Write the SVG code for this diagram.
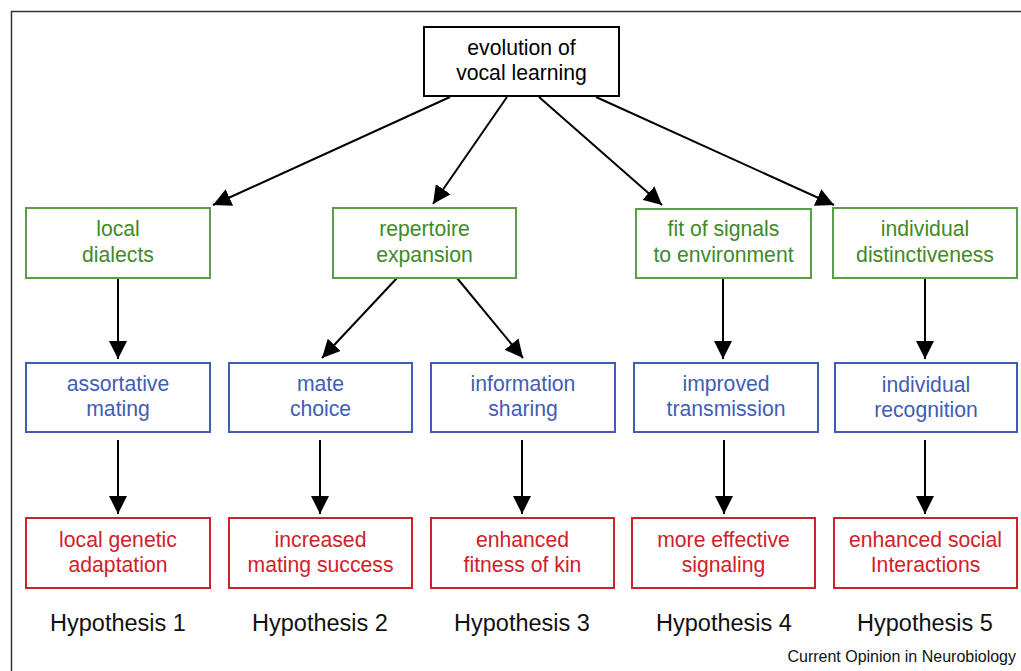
<svg xmlns="http://www.w3.org/2000/svg" width="1021" height="671" viewBox="0 0 1021 671">
<style>
text{font-family:"Liberation Sans",Arial,sans-serif;text-anchor:middle}
.t{font-size:21.2px}
.h{font-size:23.5px;fill:#111}
.box{fill:#fff;stroke-width:2}
.k{stroke:#000}
.g{stroke:#5a9f45}
.b{stroke:#3f5db5}
.r{stroke:#d0212b}
.gt{fill:#3f8a28}
.bt{fill:#3f5db5}
.rt{fill:#d0212b}
</style>
<defs>
<marker id="a2" viewBox="0 0 18 18" refX="18" refY="9" markerWidth="18" markerHeight="18" markerUnits="userSpaceOnUse" orient="auto">
<path d="M0,0 L18,9 L0,18 z" fill="#000"/>
</marker>
</defs>
<rect width="1021" height="671" fill="#fff"/>
<path d="M11.5,671 V11.5 H1021" fill="none" stroke="#333" stroke-width="1.5"/>
<g id="connectors" stroke="#000" stroke-width="2" fill="none">
<line x1="450" y1="97" x2="213" y2="205" marker-end="url(#a2)"/>
<line x1="507" y1="97" x2="433" y2="204" marker-end="url(#a2)"/>
<line x1="539" y1="97" x2="662" y2="205" marker-end="url(#a2)"/>
<line x1="596" y1="97" x2="834" y2="205" marker-end="url(#a2)"/>
<line x1="118" y1="278" x2="118" y2="359" marker-end="url(#a2)"/>
<line x1="397" y1="278" x2="322" y2="358" marker-end="url(#a2)"/>
<line x1="457" y1="278" x2="523" y2="358" marker-end="url(#a2)"/>
<line x1="723" y1="278" x2="723" y2="359" marker-end="url(#a2)"/>
<line x1="925" y1="278" x2="925" y2="359" marker-end="url(#a2)"/>
<line x1="118" y1="440" x2="118" y2="514" marker-end="url(#a2)"/>
<line x1="320" y1="440" x2="320" y2="514" marker-end="url(#a2)"/>
<line x1="522" y1="440" x2="522" y2="514" marker-end="url(#a2)"/>
<line x1="724" y1="440" x2="724" y2="514" marker-end="url(#a2)"/>
<line x1="925" y1="440" x2="925" y2="514" marker-end="url(#a2)"/>
</g>
<g id="root"><rect class="box k" x="424" y="27" width="195" height="69"/><text class="t" x="521.5" y="55">evolution of</text><text class="t" x="521.5" y="80">vocal learning</text></g>
<g id="local-dialects"><rect class="box g" x="26" y="208" width="184" height="70"/><text class="t gt" x="118" y="236">local</text><text class="t gt" x="118" y="262">dialects</text></g>
<g id="repertoire-expansion"><rect class="box g" x="333" y="208" width="183" height="70"/><text class="t gt" x="424.5" y="236">repertoire</text><text class="t gt" x="424.5" y="262">expansion</text></g>
<g id="fit-of-signals"><rect class="box g" x="636" y="209" width="175" height="69"/><text class="t gt" x="723.5" y="236">fit of signals</text><text class="t gt" x="723.5" y="262">to environment</text></g>
<g id="individual-distinctiveness"><rect class="box g" x="833" y="208" width="184" height="70"/><text class="t gt" x="925" y="236">individual</text><text class="t gt" x="925" y="262">distinctiveness</text></g>
<g id="assortative-mating"><rect class="box b" x="26" y="363" width="184" height="69"/><text class="t bt" x="118" y="391">assortative</text><text class="t bt" x="118" y="416">mating</text></g>
<g id="mate-choice"><rect class="box b" x="229" y="363" width="183" height="69"/><text class="t bt" x="320.5" y="391">mate</text><text class="t bt" x="320.5" y="416">choice</text></g>
<g id="information-sharing"><rect class="box b" x="431" y="363" width="184" height="69"/><text class="t bt" x="523" y="391">information</text><text class="t bt" x="523" y="416">sharing</text></g>
<g id="improved-transmission"><rect class="box b" x="634" y="363" width="184" height="69"/><text class="t bt" x="726" y="391">improved</text><text class="t bt" x="726" y="416">transmission</text></g>
<g id="individual-recognition"><rect class="box b" x="835" y="363" width="182" height="69"/><text class="t bt" x="926" y="392">individual</text><text class="t bt" x="926" y="417">recognition</text></g>
<g id="local-genetic-adaptation"><rect class="box r" x="26" y="518" width="184" height="70"/><text class="t rt" x="118" y="547">local genetic</text><text class="t rt" x="118" y="572">adaptation</text></g>
<g id="increased-mating-success"><rect class="box r" x="229" y="518" width="183" height="70"/><text class="t rt" x="320.5" y="547">increased</text><text class="t rt" x="320.5" y="572">mating success</text></g>
<g id="enhanced-fitness-of-kin"><rect class="box r" x="431" y="518" width="183" height="70"/><text class="t rt" x="522.5" y="547">enhanced</text><text class="t rt" x="522.5" y="572">fitness of kin</text></g>
<g id="more-effective-signaling"><rect class="box r" x="632" y="518" width="183" height="70"/><text class="t rt" x="723.5" y="547">more effective</text><text class="t rt" x="723.5" y="572">signaling</text></g>
<g id="enhanced-social-interactions"><rect class="box r" x="834" y="518" width="183" height="70"/><text class="t rt" x="925.5" y="547">enhanced social</text><text class="t rt" x="925.5" y="572">Interactions</text></g>
<g id="labels">
<text class="h" x="118" y="631">Hypothesis 1</text>
<text class="h" x="320" y="631">Hypothesis 2</text>
<text class="h" x="522" y="631">Hypothesis 3</text>
<text class="h" x="724" y="631">Hypothesis 4</text>
<text class="h" x="925" y="631">Hypothesis 5</text>
<text x="1016" y="662" style="font-size:16px;text-anchor:end;fill:#111">Current Opinion in Neurobiology</text>
</g>
</svg>
